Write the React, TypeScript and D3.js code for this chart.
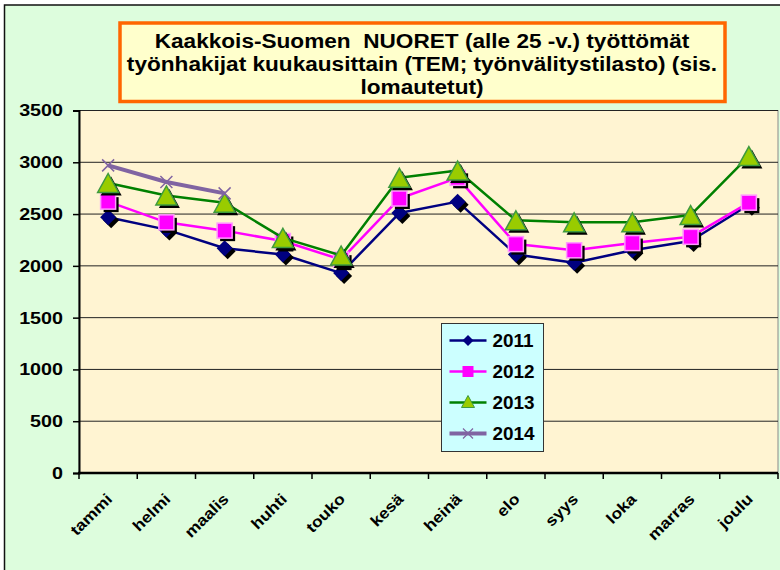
import { useEffect, useRef } from 'react';
import * as d3 from 'd3';

const months = ['tammi', 'helmi', 'maalis', 'huhti', 'touko', 'kesä', 'heinä', 'elo', 'syys', 'loka', 'marras', 'joulu'];
const v2011 = [2470, 2350, 2170, 2110, 1930, 2510, 2620, 2110, 2030, 2150, 2240, 2590];
const v2012 = [2620, 2420, 2340, 2240, 2060, 2650, 2850, 2210, 2150, 2220, 2280, 2610];
const v2013 = [2800, 2680, 2610, 2270, 2100, 2850, 2920, 2440, 2420, 2420, 2490, 3060];
const v2014 = [2970, 2810, 2700];
const yTicks = [0, 500, 1000, 1500, 2000, 2500, 3000, 3500];
const titleLines = [
  'Kaakkois-Suomen  NUORET (alle 25 -v.) työttömät',
  'työnhakijat kuukausittain (TEM; työnvälitystilasto) (sis.',
  'lomautetut)',
];

type MarkerKind = 'diamond' | 'square' | 'triangle' | 'cross';

interface Series {
  name: string;
  values: number[];
  color: string;
  width: number;
  marker: MarkerKind;
}

const series: Series[] = [
  { name: '2011', values: v2011, color: '#000080', width: 2.5, marker: 'diamond' },
  { name: '2012', values: v2012, color: '#FF00FF', width: 2.5, marker: 'square' },
  { name: '2013', values: v2013, color: '#008000', width: 2.5, marker: 'triangle' },
  { name: '2014', values: v2014, color: '#8064A2', width: 4, marker: 'cross' },
];

const FONT = 'Arial, "Liberation Sans", sans-serif';

// Excel draws its Arial a bit wider than the browser does, so widen the glyphs
const stretch = (sel: d3.Selection<any, any, any, any>, k: number) => {
  sel.each(function () {
    const el = this as SVGTextElement;
    const len = el.getComputedTextLength();
    el.setAttribute('textLength', String(len * k));
    el.setAttribute('lengthAdjust', 'spacingAndGlyphs');
  });
};

const App: React.FC = () => {
  const svgRef = useRef<SVGSVGElement>(null);

  const width = 780;
  const height = 570;
  const plot = { left: 79, right: 778, top: 110.5, bottom: 473 };

  useEffect(() => {
    if (!svgRef.current) return;
    const svg = d3.select(svgRef.current);
    svg.selectAll('*').remove();

    // outer chart area
    svg.append('rect')
      .attr('x', 4.5).attr('y', 5)
      .attr('width', width).attr('height', height)
      .attr('fill', '#DDFDDD')
      .attr('stroke', '#111').attr('stroke-width', 1.5);

    const x = d3.scaleBand().domain(months).range([plot.left, plot.right]);
    const y = d3.scaleLinear().domain([0, 3500]).range([plot.bottom, plot.top]);
    const cx = (i: number) => (x(months[i]) || 0) + x.bandwidth() / 2;

    // plot background
    svg.append('rect')
      .attr('x', plot.left).attr('y', plot.top)
      .attr('width', plot.right - plot.left).attr('height', plot.bottom - plot.top)
      .attr('fill', '#FFF4D2')
      .attr('stroke', '#8a8a8a').attr('stroke-width', 1);

    // gridlines
    svg.append('g')
      .selectAll('line')
      .data(yTicks.filter(d => d > 0))
      .enter().append('line')
      .attr('x1', plot.left).attr('x2', plot.right)
      .attr('y1', d => y(d)).attr('y2', d => y(d))
      .attr('stroke', '#222').attr('stroke-width', 1);

    // y axis
    const yAxis = svg.append('g')
      .attr('transform', `translate(${plot.left},0)`)
      .call(d3.axisLeft(y).tickValues(yTicks).tickSize(6).tickPadding(10).tickFormat(d3.format('d')));
    yAxis.select('.domain').attr('stroke', '#000').attr('stroke-width', 2);
    yAxis.selectAll('.tick line').attr('stroke', '#000').attr('stroke-width', 1.5);
    const yLabels = yAxis.selectAll('.tick text')
      .style('font-family', FONT).style('font-size', '17px').style('font-weight', 'bold')
      .attr('fill', '#000');
    stretch(yLabels, 1.16);

    // x axis
    const xAxisG = svg.append('g');
    xAxisG.append('line')
      .attr('x1', plot.left - 1).attr('x2', plot.right)
      .attr('y1', plot.bottom).attr('y2', plot.bottom)
      .attr('stroke', '#000').attr('stroke-width', 2.5);
    xAxisG.selectAll('.xtick')
      .data(d3.range(months.length + 1))
      .enter().append('line')
      .attr('class', 'xtick')
      .attr('x1', i => plot.left + i * x.step()).attr('x2', i => plot.left + i * x.step())
      .attr('y1', plot.bottom).attr('y2', plot.bottom + 6)
      .attr('stroke', '#000').attr('stroke-width', 1.5);
    const xLabels = xAxisG.selectAll('.xlabel')
      .data(months)
      .enter().append('text')
      .attr('class', 'xlabel')
      .attr('transform', (_d, i) => `translate(${cx(i) + 5},${plot.bottom + 27}) rotate(-45)`)
      .attr('text-anchor', 'end')
      .style('font-family', FONT).style('font-size', '15.5px').style('font-weight', 'bold')
      .attr('fill', '#000')
      .text(d => d);
    stretch(xLabels, 1.13);

    // marker drawing
    const drawMarker = (g: d3.Selection<SVGGElement, unknown, null, undefined>, kind: MarkerKind, px: number, py: number, color: string, shadow: boolean) => {
      const off = shadow ? 3 : 0;
      const fillFor = (c: string) => (shadow ? '#000' : c);
      if (kind === 'diamond') {
        const r = 8;
        g.append('path')
          .attr('d', `M${px + off},${py + off - r}L${px + off + r},${py + off}L${px + off},${py + off + r}L${px + off - r},${py + off}Z`)
          .attr('fill', fillFor(color));
      } else if (kind === 'square') {
        const s = 15;
        g.append('rect')
          .attr('x', px + off - s / 2).attr('y', py + off - s / 2)
          .attr('width', s).attr('height', s)
          .attr('fill', fillFor(color))
          .attr('stroke', shadow ? 'none' : '#FF99FF').attr('stroke-width', 1.5);
      } else if (kind === 'triangle') {
        const w = 10.5;
        const h = 19;
        g.append('path')
          .attr('d', `M${px + off},${py + off - h / 2}L${px + off + w},${py + off + h / 2}L${px + off - w},${py + off + h / 2}Z`)
          .attr('fill', fillFor('#99CC00'))
          .attr('stroke', shadow ? 'none' : '#3E9A3E').attr('stroke-width', 1.5);
      } else if (!shadow) {
        const r = 6;
        g.append('path')
          .attr('d', `M${px - r},${py - r}L${px + r},${py + r}M${px - r},${py + r}L${px + r},${py - r}`)
          .attr('stroke', color).attr('stroke-width', 1.5);
      }
    };

    // series
    const line = d3.line<number>()
      .x((_d, i) => cx(i))
      .y(d => y(d));

    series.forEach(s => {
      const g = svg.append('g');
      g.append('path')
        .datum(s.values)
        .attr('d', line)
        .attr('fill', 'none')
        .attr('stroke', s.color)
        .attr('stroke-width', s.width)
        .attr('stroke-linejoin', 'round');
      s.values.forEach((v, i) => drawMarker(g, s.marker, cx(i), y(v), s.color, true));
      s.values.forEach((v, i) => drawMarker(g, s.marker, cx(i), y(v), s.color, false));
    });

    // legend
    const legend = svg.append('g').attr('transform', 'translate(441.5,323.5)');
    legend.append('rect')
      .attr('width', 102).attr('height', 128)
      .attr('fill', '#CCFFFF')
      .attr('stroke', '#333').attr('stroke-width', 1);
    series.forEach((s, i) => {
      const ly = 17 + i * 31;
      const lg = legend.append('g');
      lg.append('line')
        .attr('x1', 8).attr('x2', 45)
        .attr('y1', ly).attr('y2', ly)
        .attr('stroke', s.color).attr('stroke-width', s.width);
      if (s.marker === 'diamond') {
        lg.append('path').attr('d', `M26.5,${ly - 5.5}L32,${ly}L26.5,${ly + 5.5}L21,${ly}Z`).attr('fill', s.color);
      } else if (s.marker === 'square') {
        lg.append('rect').attr('x', 21).attr('y', ly - 5.5).attr('width', 11).attr('height', 11).attr('fill', s.color);
      } else if (s.marker === 'triangle') {
        lg.append('path').attr('d', `M26.5,${ly - 7}L33,${ly + 5}L20,${ly + 5}Z`)
          .attr('fill', '#99CC00').attr('stroke', '#3E9A3E').attr('stroke-width', 1);
      } else {
        lg.append('path').attr('d', `M21.5,${ly - 5}L31.5,${ly + 5}M21.5,${ly + 5}L31.5,${ly - 5}`)
          .attr('stroke', s.color).attr('stroke-width', 1.2);
      }
      const t = lg.append('text')
        .attr('x', 51).attr('y', ly).attr('dy', '0.36em')
        .style('font-family', FONT).style('font-size', '17.5px').style('font-weight', 'bold')
        .attr('fill', '#000')
        .text(s.name);
      stretch(t, 1.08);
    });

    // title box
    svg.append('rect')
      .attr('x', 120).attr('y', 23)
      .attr('width', 605).attr('height', 78.5)
      .attr('fill', '#FFFFCC')
      .attr('stroke', '#FF6600').attr('stroke-width', 3.5);
    const title = svg.append('g')
      .selectAll('text')
      .data(titleLines)
      .enter().append('text')
      .attr('x', 422).attr('y', (_d, i) => 48 + i * 23)
      .attr('text-anchor', 'middle')
      .style('font-family', FONT).style('font-size', '20px').style('font-weight', 'bold')
      .style('white-space', 'pre')
      .attr('fill', '#000')
      .text(d => d);
    stretch(title, 1.13);
  }, []);

  return (
    <svg ref={svgRef} width={width} height={height}
      style={{ position: 'absolute', left: 0, top: 0, display: 'block' }} />
  );
};

export default App;
